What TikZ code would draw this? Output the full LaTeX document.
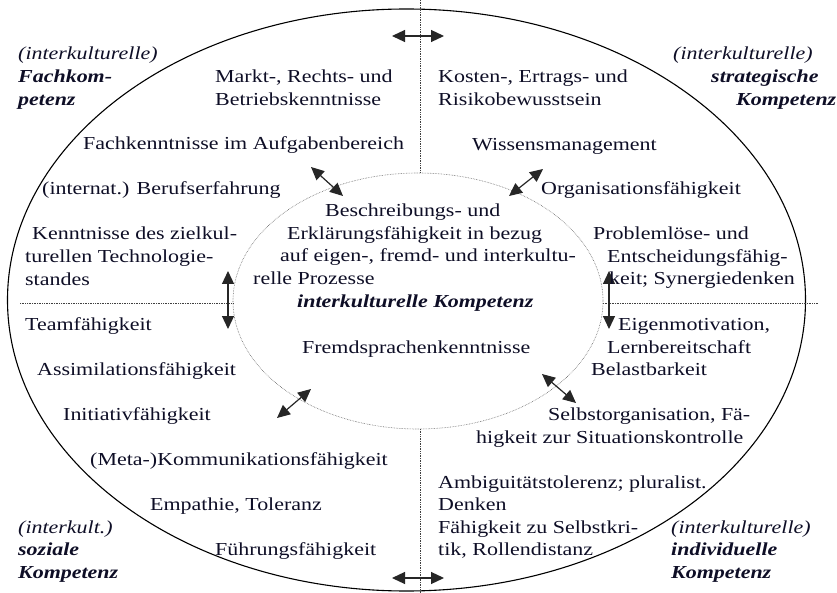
\documentclass[tikz,border=0pt]{standalone}
\usepackage{fontspec}
\setmainfont{Liberation Serif}[FakeStretch=1.2]
\usetikzlibrary{arrows.meta}
\definecolor{ink}{RGB}{14,14,38}
\newcommand\mylines[1]{\begin{tabular}[t]{@{}l@{}}#1\end{tabular}}
\begin{document}
\begin{tikzpicture}[x=1pt,y=-1pt,
  txt/.style={anchor=base west, inner sep=0pt, text=ink, font=\fontsize{18.3}{22.6}\selectfont},
  lab/.style={txt, font=\fontsize{18.3}{22.6}\selectfont\itshape},
  blab/.style={txt, font=\fontsize{18.3}{22.6}\selectfont\bfseries\itshape},
  dbl/.style={{Triangle[length=13pt,width=12pt]}-{Triangle[length=13pt,width=12pt]}, line width=1.2pt, draw=black!85},
  divider/.style={densely dotted, line width=0.7pt, draw=black!75},
  outer/.style={draw=black, line width=1.1pt},
  inner/.style={draw=black!60, densely dotted, line width=0.6pt}]
\useasboundingbox (0,0) rectangle (837,593);
\fill[white] (0,0) rectangle (837,593);
% ellipses
\draw[outer] (406.5,300) ellipse [x radius=399pt, y radius=291pt];
\draw[inner] (418,301) ellipse [x radius=185pt, y radius=128pt];
% dividers
\coordinate (vt1) at (420,0);
\coordinate (vt2) at (420,173);
\coordinate (vb1) at (420,429);
\coordinate (vb2) at (420,593);
\coordinate (hl1) at (20,303);
\coordinate (hl2) at (233,303);
\coordinate (hr1) at (603,303);
\coordinate (hr2) at (818,303);
\draw[divider] (vt1) -- (vt2);
\draw[divider] (vb1) -- (vb2);
\draw[divider] (hl1) -- (hl2);
\draw[divider] (hr1) -- (hr2);
% arrows
\coordinate (at1) at (392,36);  \coordinate (at2) at (444,36);
\coordinate (ab1) at (392,578); \coordinate (ab2) at (444,578);
\coordinate (al1) at (228,271); \coordinate (al2) at (228,329);
\coordinate (ar1) at (609,271); \coordinate (ar2) at (609,329);
\coordinate (aul1) at (311,167); \coordinate (aul2) at (343,196);
\coordinate (aur1) at (543,169); \coordinate (aur2) at (509,196);
\coordinate (all1) at (311,389); \coordinate (all2) at (277,418);
\coordinate (alr1) at (542,374); \coordinate (alr2) at (576,403);
\draw[dbl] (at1) -- (at2);
\draw[dbl] (ab1) -- (ab2);
\draw[dbl] (al1) -- (al2);
\draw[dbl] (ar1) -- (ar2);
\draw[dbl] (aul1) -- (aul2);
\draw[dbl] (aur1) -- (aur2);
\draw[dbl] (all1) -- (all2);
\draw[dbl] (alr1) -- (alr2);
% corner labels
\node[lab] (lfa) at (18,60) {\mylines{(interkulturelle)\\\textbf{Fachkom-}\\\textbf{petenz}}};
\node[lab] (lst1) at (673,60) {(interkulturelle)};
\node[blab] (lst2) at (711,83) {strategische};
\node[blab] (lst3) at (736,106) {Kompetenz};
\node[lab] (lso) at (18,533) {\mylines{(interkult.)\\\textbf{soziale}\\\textbf{Kompetenz}}};
\node[lab] (lin) at (671,533) {\mylines{(interkulturelle)\\\textbf{individuelle}\\\textbf{Kompetenz}}};
% top-left quadrant
\node[txt] (t1) at (215,83) {\mylines{Markt-, Rechts- und\\Betriebskenntnisse}};
\node[txt] (t3) at (83,150) {Fachkenntnisse im Aufgabenbereich};
\node[txt] (t5) at (42,195) {(internat.) Berufserfahrung};
\node[txt] (t7a) at (32,240) {Kenntnisse des zielkul-};
\node[txt] (t7b) at (25,263) {\mylines{turellen Technologie-\\standes}};
% top-right quadrant
\node[txt] (t2) at (438,83) {\mylines{Kosten-, Ertrags- und\\Risikobewusstsein}};
\node[txt] (t4) at (472,151) {Wissensmanagement};
\node[txt] (t6) at (541,195) {Organisationsfähigkeit};
\node[txt] (t8a) at (593,240) {Problemlöse- und};
\node[txt] (t8b) at (607,263) {Entscheidungsfähig-};
\node[txt] (t8c) at (609,285) {keit; Synergiedenken};
% center
\node[txt] (c1) at (325,217) {Beschreibungs- und};
\node[txt] (c2) at (287,240) {Erklärungsfähigkeit in bezug};
\node[txt] (c3) at (280,262) {auf eigen-, fremd- und interkultu-};
\node[txt] (c4) at (253,284) {relle Prozesse};
\node[blab] (c5) at (297,307) {interkulturelle Kompetenz};
\node[txt] (c6) at (302,353) {Fremdsprachenkenntnisse};
% bottom-left quadrant
\node[txt] (b1) at (25,330) {Teamfähigkeit};
\node[txt] (b2) at (37,375) {Assimilationsfähigkeit};
\node[txt] (b3) at (63,420) {Initiativfähigkeit};
\node[txt] (b4) at (90,465) {(Meta-)Kommunikationsfähigkeit};
\node[txt] (b5) at (150,510) {Empathie, Toleranz};
\node[txt] (b6) at (215,555) {Führungsfähigkeit};
% bottom-right quadrant
\node[txt] (r1) at (618,330) {Eigenmotivation,};
\node[txt] (r2) at (607,353) {Lernbereitschaft};
\node[txt] (r3) at (591,375) {Belastbarkeit};
\node[txt] (r4) at (548,420) {Selbstorganisation, Fä-};
\node[txt] (r5) at (476,443) {higkeit zur Situationskontrolle};
\node[txt] (r6) at (438,488) {\mylines{Ambiguitätstolerenz; pluralist.\\Denken\\Fähigkeit zu Selbstkri-\\tik, Rollendistanz}};
\end{tikzpicture}
\end{document}
